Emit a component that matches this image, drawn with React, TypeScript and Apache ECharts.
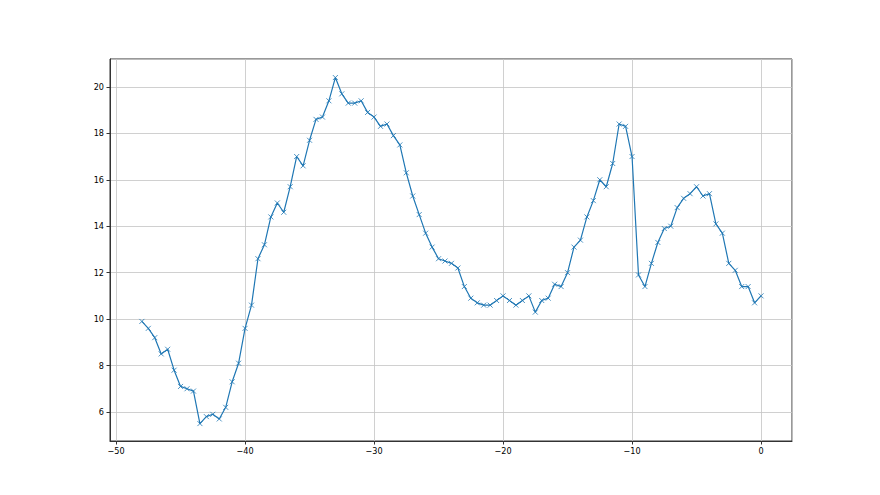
import React, { useEffect, useRef } from "react";
import * as echarts from "echarts";

const xValues: number[] = [];
for (let i = 0; i <= 96; i++) xValues.push(-48 + i * 0.5);

const yValues: number[] = [
  9.9, 9.6, 9.2, 8.5, 8.7, 7.8, 7.1, 7.0, 6.9, 5.5,
  5.8, 5.9, 5.7, 6.2, 7.3, 8.1, 9.6, 10.6, 12.6, 13.2,
  14.4, 15.0, 14.6, 15.7, 17.0, 16.6, 17.7, 18.6, 18.7, 19.4,
  20.4, 19.7, 19.3, 19.3, 19.4, 18.9, 18.7, 18.3, 18.4, 17.9,
  17.5, 16.3, 15.3, 14.5, 13.7, 13.1, 12.6, 12.5, 12.4, 12.2,
  11.4, 10.9, 10.7, 10.6, 10.6, 10.8, 11.0, 10.8, 10.6, 10.8,
  11.0, 10.3, 10.8, 10.9, 11.5, 11.4, 12.0, 13.1, 13.4, 14.4,
  15.1, 16.0, 15.7, 16.7, 18.4, 18.3, 17.0, 11.9, 11.4, 12.4,
  13.3, 13.9, 14.0, 14.8, 15.2, 15.4, 15.7, 15.3, 15.4, 14.1,
  13.7, 12.4, 12.1, 11.4, 11.4, 10.7, 11.0,
];

const fmt = (v: number) => String(Math.round(v)).replace("-", "\u2212");

export default function App() {
  const ref = useRef<HTMLDivElement>(null);
  useEffect(() => {
    if (!ref.current) return;
    const chart = echarts.init(ref.current, undefined, { renderer: "svg" });
    const labelStyle = {
      color: "#000",
      fontSize: 9,
      fontFamily: "DejaVu Sans Condensed, DejaVu Sans",
      formatter: fmt,
    };
    chart.setOption({
      animation: false,
      backgroundColor: "#fff",
      grid: {
        left: 110,
        right: 88,
        top: 59,
        bottom: 54,
        show: true,
        borderColor: "#333",
        borderWidth: 1,
        containLabel: false,
      },
      xAxis: {
        type: "value",
        min: -50.47,
        max: 2.4,
        splitNumber: 5,
        axisLine: { show: true, onZero: false, lineStyle: { color: "#333" } },
        axisTick: { show: true, length: 3.5, lineStyle: { color: "#333" } },
        axisLabel: { ...labelStyle, showMinLabel: false, showMaxLabel: false, margin: 5 },
        splitLine: { show: true, lineStyle: { color: "#c4c4c4", width: 0.8 } },
      },
      yAxis: {
        type: "value",
        min: 4.75,
        max: 21.2,
        splitNumber: 8,
        axisLine: { show: true, onZero: false, lineStyle: { color: "#333" } },
        axisTick: { show: true, length: 3.5, lineStyle: { color: "#333" } },
        axisLabel: { ...labelStyle, showMinLabel: false, showMaxLabel: false, margin: 6 },
        splitLine: { show: true, lineStyle: { color: "#c4c4c4", width: 0.8 } },
      },
      series: [
        {
          type: "line",
          data: xValues.map((x, i) => [x, yValues[i]]),
          symbol: "path://M0,0L10,10M10,0L0,10",
          symbolSize: 5,
          showAllSymbol: true,
          lineStyle: { color: "#1f77b4", width: 1.2 },
          itemStyle: { color: "#1f77b4", borderColor: "#1f77b4", borderWidth: 0.8 },
        },
      ],
    });
    return () => chart.dispose();
  }, []);
  return (
    <div
      ref={ref}
      style={{ position: "fixed", left: 0, top: 0, width: 880, height: 495 }}
    />
  );
}
